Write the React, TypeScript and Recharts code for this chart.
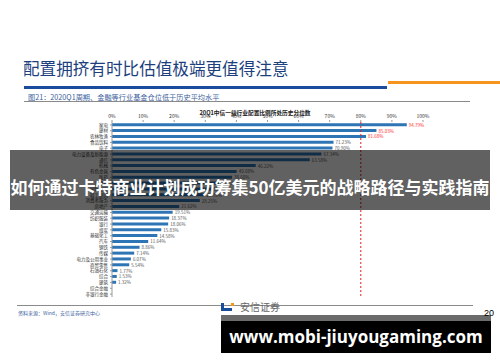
import React from 'react';
import { BarChart, Bar, XAxis, YAxis, ReferenceLine, LabelList } from 'recharts';

const industries = [
  '家电', '建材', '农林牧渔', '食品饮料', '电子', '电力设备及新能源', '通信', '机械', '有色金属', '医药',
  '计算机', '国防军工', '轻工制造', '消费者服务', '房地产', '交通运输', '纺织服装', '银行', '煤炭', '基础化工',
  '汽车', '钢铁', '传媒', '电力及公用事业', '商贸零售', '石油石化', '综合', '建筑', '综合金融', '非银行金融',
];
const percentiles = [
  94.79, 85.03, 81.68, 71.23, 70.9, 67.34, 63.58, 46.22, 40.08, 38.6,
  35.1, 31.9, 29.78, 28.25, 21.62, 19.51, 18.37, 18.06, 15.83, 14.58,
  11.64, 8.86, 7.14, 6.07, 5.54, 1.77, 1.53, 1.32, 0, 0,
];
const xTicks = [0, 10, 20, 30, 40, 50, 60, 70, 80, 90, 100];
const threshold = 80;

const data = industries.map((name, i) => ({ name, value: percentiles[i] }));

const CJK = '"Noto Sans CJK SC", "Noto Sans", sans-serif';

const ValueLabel = (props: any) => {
  const { x, y, width, height, value } = props;
  return (
    <text
      x={x + width + 2}
      y={y + height / 2}
      dominantBaseline="central"
      fontSize={4.5}
      fontFamily={CJK}
      fill={value > threshold ? '#ff2a2a' : '#555'}
    >
      {value.toFixed(2)}%
    </text>
  );
};

export default function App() {
  return (
    <div style={{ position: 'absolute', left: 0, top: 0, width: 500, height: 362, overflow: 'hidden', background: '#fff', fontFamily: CJK }}>
      <div style={{ position: 'absolute', left: 23, top: 58, fontSize: 16.6, color: '#1d3f7e', lineHeight: '20px', whiteSpace: 'nowrap' }}>
        配置拥挤有时比估值极端更值得注意
      </div>
      <div style={{ position: 'absolute', left: 24, top: 85.5, width: 363, height: 3.5, background: '#1a4b9c' }} />
      <div style={{ position: 'absolute', left: 388, top: 81, width: 112, height: 3, background: '#f7941d' }} />
      <div style={{ position: 'absolute', left: 28, top: 93, fontSize: 7.2, color: '#3c5fa0', lineHeight: '9px', whiteSpace: 'nowrap' }}>
        图21：2020Q1周期、金融等行业基金仓位低于历史平均水平
      </div>
      <div style={{ position: 'absolute', left: 24, top: 101, width: 446, height: 1, background: '#8a8a8a' }} />
      <div style={{ position: 'absolute', left: 150, width: 210, top: 108.5, fontSize: 5.7, fontWeight: 700, color: '#222', lineHeight: '7px', textAlign: 'center', whiteSpace: 'nowrap' }}>
        20Q1中信一级行业配置比例所处历史分位数
      </div>

      <div style={{ position: 'absolute', left: 0, top: 0 }}>
        <BarChart width={500} height={362} data={data} layout="vertical" margin={{ top: 112, right: 77, bottom: 65, left: 72 }} barCategoryGap="22%">
          <XAxis
            type="number"
            orientation="top"
            domain={[0, 100]}
            ticks={xTicks}
            tickFormatter={(v) => `${v}%`}
            height={10}
            axisLine={false}
            tickSize={2}
            tick={{ fontSize: 5, fill: '#333', fontFamily: CJK }}
            stroke="#999"
          />
          <YAxis
            type="category"
            dataKey="name"
            width={40}
            interval={0}
            tickSize={2}
            stroke="#999"
            tick={{ fontSize: 4.5, fill: '#333', fontFamily: CJK }}
          />
          <Bar dataKey="value" fill="#2e75b6" isAnimationActive={false}>
            <LabelList dataKey="value" content={ValueLabel} />
          </Bar>
          <ReferenceLine x={threshold} stroke="#e02020" strokeDasharray="2 2" strokeWidth={1} />
        </BarChart>
      </div>

      <div style={{ position: 'absolute', left: 10, top: 150, width: 480, height: 60, background: 'rgba(0,0,0,0.62)' }} />
      <div style={{ position: 'absolute', left: 0, width: 500, top: 175, fontSize: 17, fontWeight: 700, color: '#fff', lineHeight: '24px', textAlign: 'center', whiteSpace: 'nowrap' }}>
        如何通过卡特商业计划成功筹集50亿美元的战略路径与实践指南
      </div>

      <div style={{ position: 'absolute', left: 17, top: 305, width: 456, height: 1, background: '#8a8a8a' }} />
      <div style={{ position: 'absolute', left: 18, top: 310, fontSize: 5, color: '#3c5fa0', lineHeight: '6px', whiteSpace: 'nowrap' }}>
        资料来源：Wind，安信证券研究中心
      </div>
      <div style={{ position: 'absolute', left: 221, top: 303, width: 3, height: 8, background: '#1a4b9c' }} />
      <div style={{ position: 'absolute', left: 221, top: 308, width: 11, height: 3, background: '#1a4b9c' }} />
      <div style={{ position: 'absolute', left: 231, top: 303, width: 3, height: 3, background: '#f7941d' }} />
      <div style={{ position: 'absolute', left: 240, top: 301, fontSize: 10, color: '#666', lineHeight: '12px', whiteSpace: 'nowrap' }}>
        安信证券
      </div>
      <div style={{ position: 'absolute', left: 221, top: 315, width: 270, height: 6, background: '#6b6b6b' }} />
      <div style={{ position: 'absolute', left: 221, top: 321, width: 270, height: 32, background: '#000' }} />
      <div style={{ position: 'absolute', left: 221, width: 270, top: 325, fontSize: 17, fontWeight: 700, color: '#fff', lineHeight: '24px', textAlign: 'center', whiteSpace: 'nowrap', fontFamily: '"Open Sans", "DejaVu Sans", sans-serif' }}>
        www.mobi-jiuyougaming.com
      </div>
      <div style={{ position: 'absolute', left: 484, top: 308, fontSize: 9, color: '#000', lineHeight: '10px', fontFamily: '"Liberation Sans", sans-serif' }}>
        20
      </div>
    </div>
  );
}
